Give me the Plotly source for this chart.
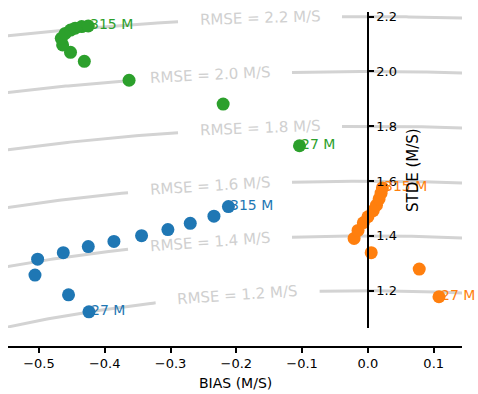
import numpy as np
import plotly.graph_objects as go

# ---- data ----
heights = ["27 M", "315 M"]
blue_x = [-0.424, -0.455, -0.506, -0.502, -0.463, -0.425, -0.386, -0.344, -0.304, -0.270, -0.234, -0.212]
blue_y = [1.123, 1.185, 1.257, 1.315, 1.339, 1.361, 1.380, 1.401, 1.423, 1.446, 1.472, 1.507]
orange_x = [0.108, 0.078, 0.005, -0.021, -0.015, -0.007, 0.000, 0.008, 0.013, 0.017, 0.020, 0.022]
orange_y = [1.178, 1.279, 1.339, 1.391, 1.420, 1.448, 1.470, 1.492, 1.512, 1.535, 1.556, 1.575]
green_x = [-0.104, -0.220, -0.363, -0.431, -0.452, -0.464, -0.466, -0.460, -0.452, -0.445, -0.435, -0.425]
green_y = [1.729, 1.881, 1.968, 2.037, 2.070, 2.097, 2.121, 2.139, 2.151, 2.158, 2.164, 2.166]
rmse_levels = [1.2, 1.4, 1.6, 1.8, 2.0, 2.2]
x_ticks = [-0.5, -0.4, -0.3, -0.2, -0.1, 0.0, 0.1]
x_ticklabels = ["\u22120.5", "\u22120.4", "\u22120.3", "\u22120.2", "\u22120.1", "0.0", "0.1"]
y_ticks = [1.2, 1.4, 1.6, 1.8, 2.0, 2.2]
y_ticklabels = ["1.2", "1.4", "1.6", "1.8", "2.0", "2.2"]

# ---- layout settings ----
W, H = 478, 394
ML, MR, MT, MB = 8, 16, 12, 47
XMIN, XMAX = -0.547, 0.143
YMIN, YMAX = 1.064, 2.217
label_centers = {1.2: -0.198, 1.4: -0.240, 1.6: -0.240, 1.8: -0.164, 2.0: -0.240, 2.2: -0.164}
gap_half = 0.1246
FONT = "DejaVu Sans"
GREY_LINE = "#d3d3d3"
GREY_TEXT = "#d0d0d0"

plot_w = W - ML - MR
plot_h = H - MT - MB
px_per_x = plot_w / (XMAX - XMIN)
y_dom_low = 19 / plot_h
px_per_y = plot_h * (1 - y_dom_low) / (YMAX - YMIN)

fig = go.Figure()

annotations = []
for r in rmse_levels:
    xc = label_centers[r]
    for a, b in [(XMIN - 0.01, xc - gap_half), (xc + gap_half, XMAX + 0.01)]:
        xs = np.linspace(a, b, 60)
        ys = np.sqrt(r ** 2 - xs ** 2)
        fig.add_trace(go.Scatter(x=xs, y=ys, mode="lines",
                                 line=dict(color=GREY_LINE, width=3),
                                 hoverinfo="skip", showlegend=False))
    yc = np.sqrt(r ** 2 - xc ** 2)
    slope = -xc / yc * px_per_y / px_per_x
    ang = -np.degrees(np.arctan(slope))
    annotations.append(dict(x=xc, y=yc, xref="x", yref="y", text=f"RMSE = {r:.1f} M/S",
                            showarrow=False, textangle=ang,
                            font=dict(family=FONT, size=15, color=GREY_TEXT)))

series = [(blue_x, blue_y, "#1f77b4"), (orange_x, orange_y, "#ff7f0e"), (green_x, green_y, "#2ca02c")]
for xs, ys, c in series:
    fig.add_trace(go.Scatter(x=xs, y=ys, mode="markers",
                             marker=dict(color=c, size=13),
                             showlegend=False))
    for idx, lab in [(0, heights[0]), (-1, heights[1])]:
        annotations.append(dict(x=xs[idx], y=ys[idx], xref="x", yref="y", text=lab,
                                showarrow=False, xanchor="left", yanchor="middle",
                                yshift=2, font=dict(family=FONT, size=14, color=c)))

annotations.append(dict(x=0.5, y=-(383 - (H - MB)) / plot_h, xref="paper", yref="paper",
                        text="BIAS (M/S)", showarrow=False, xanchor="center", yanchor="middle",
                        font=dict(family=FONT, size=14, color="black")))
annotations.append(dict(x=(413 - ML) / plot_w, y=(H - MB - 170) / plot_h, xref="paper", yref="paper",
                        text="STDE (M/S)", showarrow=False, textangle=-90,
                        xanchor="center", yanchor="middle",
                        font=dict(family=FONT, size=15, color="black")))

fig.update_layout(
    width=W, height=H,
    margin=dict(l=ML, r=MR, t=MT, b=MB),
    paper_bgcolor="white", plot_bgcolor="white",
    font=dict(family=FONT, size=13, color="black"),
    showlegend=False,
    annotations=annotations,
    xaxis=dict(range=[XMIN, XMAX], domain=[0, 1], anchor="free", position=0,
               showgrid=False, zeroline=False, showline=True, linecolor="black", linewidth=1.5,
               ticks="outside", ticklen=5, tickwidth=1.5, tickcolor="black",
               tickvals=x_ticks, ticktext=x_ticklabels, tickfont=dict(size=13)),
    yaxis=dict(range=[YMIN, YMAX], domain=[y_dom_low, 1], anchor="free",
               position=(0 - XMIN) / (XMAX - XMIN), side="right",
               showgrid=False, zeroline=False, showline=True, linecolor="black", linewidth=1.5,
               ticks="outside", ticklen=5, tickwidth=1.5, tickcolor="black",
               tickvals=y_ticks, ticktext=y_ticklabels, tickfont=dict(size=13)),
)

fig.write_html("out.html")
